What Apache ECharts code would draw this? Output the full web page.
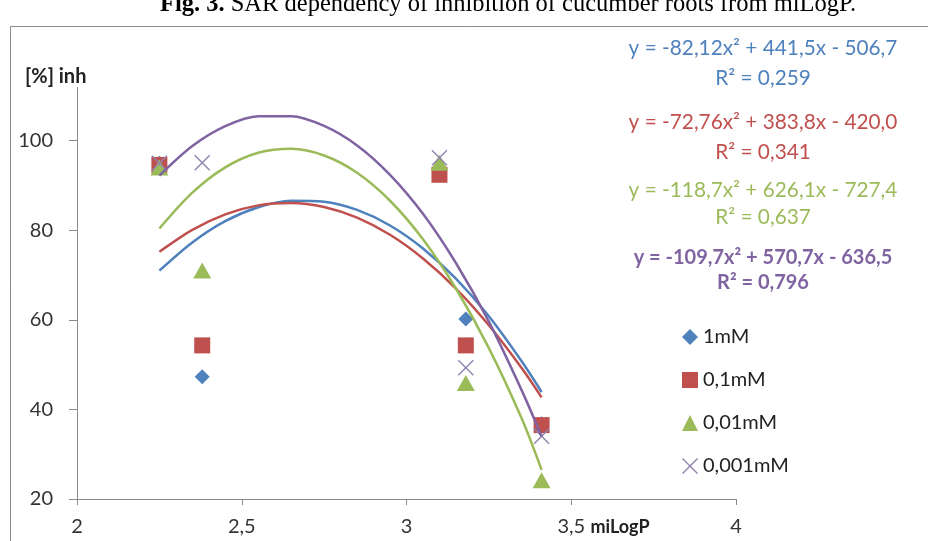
<!DOCTYPE html>
<html>
<head>
<meta charset="utf-8">
<script src="https://cdn.jsdelivr.net/npm/echarts@6/dist/echarts.min.js"></script>
<style>
html,body{margin:0;padding:0;background:#fff;}
#g_chart{width:928px;height:541px;}
</style>
</head>
<body>
<div id="g_chart"></div>
<script>
// miLogP of the compounds
var logP = [2.25, 2.38, 3.10, 3.18, 3.41];
// inhibition [%] per concentration
var inh_1mM = [95, 47.3, 93, 60.2, 36.8];
var inh_01mM = [94.6, 54.3, 92.4, 54.3, 36.5];
var inh_001mM = [94.0, 71.0, 95.1, 45.9, 24.2];
var inh_0001mM = [95, 95.1, 96.2, 49.3, 34.0];

// trend lines
var trendX = [2.25, 2.35, 2.45, 2.55, 2.65, 2.75, 2.85, 2.95, 3.05, 3.15, 3.25, 3.35, 3.41];
var trend_1mM = [71.0, 77.3, 82.05, 85.14, 86.59, 86.39, 84.55, 81.08, 75.95, 69.2, 60.8, 50.7, 43.9];
var trend_01mM = [75.2, 80.1, 83.57, 85.57, 86.11, 85.2, 82.83, 79.0, 73.7, 67.0, 58.8, 49.2, 42.7];
var trend_001mM = [80.4, 88.4, 94.05, 97.31, 98.19, 96.7, 92.84, 86.6, 78.0, 67.0, 53.7, 37.9, 26.5];
var trend_0001mM = [92.2, 98.8, 103.25, 105.47, 105.49, 103.32, 98.96, 92.4, 83.7, 72.7, 59.6, 44.2, 34.0];

var names = ['1mM', '0,1mM', '0,01mM', '0,001mM'];
var colors = ['#4F81BD', '#C0504D', '#9BBB59', '#8064A2'];
var equations = [
	['y = -82,12x² + 441,5x - 506,7', 'R² = 0,259'],
	['y = -72,76x² + 383,8x - 420,0', 'R² = 0,341'],
	['y = -118,7x² + 626,1x - 727,4', 'R² = 0,637'],
	['y = -109,7x² + 570,7x - 636,5', 'R² = 0,796']
];

var yTicks = [20, 40, 60, 80, 100];

var diamond = 'path://M5,0L10,5L5,10L0,5Z';
var cross = 'path://M0,1L1,0L8,7L15,0L16,1L9,8L16,15L15,16L8,9L1,16L0,15L7,8Z';
var symbols = [diamond, 'rect', 'triangle', cross];
var symSizes = [15, 16, [18, 16], 16];

function pairs(xs, ys){
	var out = [];
	for(let i=0;i<xs.length;i++){
		out.push([xs[i], ys[i]]);
	}
	return out;
}

var pointSets = [inh_1mM, inh_01mM, inh_001mM, inh_0001mM];
var trendSets = [trend_1mM, trend_01mM, trend_001mM, trend_0001mM];

var series = [];
for(let i=0;i<4;i++){
	series.push({
		name: names[i],
		type: 'scatter',
		symbol: symbols[i],
		symbolSize: symSizes[i],
		itemStyle: { color: i==3 ? '#9185B0' : colors[i], opacity: 1 },
		data: pairs(logP, pointSets[i]),
		z: 2
	});
}
for(let i=0;i<4;i++){
	series.push({
		name: 'trend' + i,
		type: 'line',
		smooth: 0.3,
		showSymbol: false,
		symbol: 'none',
		lineStyle: { color: colors[i], width: 2.5 },
		data: pairs(trendX, trendSets[i]),
		silent: true,
		z: 3
	});
}

// equation labels
var graphics = [];
var eqY = [[48, 78], [122, 152], [190, 217], [258, 283]];
for(let i=0;i<4;i++){
	for(let j=0;j<2;j++){
		graphics.push({
			type: 'text',
			x: 763,
			y: eqY[i][j],
			style: {
				text: equations[i][j],
				fill: colors[i],
				font: i==3 ? 'bold 20px Lato' : '20.8px Lato',
				align: 'center',
				verticalAlign: 'middle'
			}
		});
	}
}
// outer frame
graphics.push({
	type: 'rect',
	shape: { x: 10.5, y: 26.5, width: 940, height: 540 },
	style: { fill: 'none', stroke: '#8c8c8c', lineWidth: 1 },
	z: -1
});
// figure caption
graphics.push({
	type: 'text',
	x: 508,
	y: 5,
	style: {
		text: '{b|Fig. 3.} SAR dependency of inhibition of cucumber roots from miLogP.',
		rich: {
			b: { font: 'bold 24.5px "Liberation Serif"', fill: '#000' }
		},
		font: '24.5px "Liberation Serif"',
		fill: '#000',
		align: 'center',
		verticalAlign: 'middle'
	}
});
// axis titles
graphics.push({
	type: 'text', x: 25, y: 77,
	style: { text: '[%] inh', font: 'bold 20px Lato', fill: '#222', verticalAlign: 'middle', backgroundColor: '#fff' },
	z: 10
});
graphics.push({
	type: 'text', x: 620, y: 527,
	style: { text: 'miLogP', font: 'bold 18px Lato', fill: '#222', align: 'center', verticalAlign: 'middle' }
});

var option = {
	animation: false,
	backgroundColor: '#fff',
	grid: {
		left: 77,
		right: 192,
		top: 87,
		bottom: 42,
		outerBoundsMode: 'none'
	},
	legend: {
		orient: 'vertical',
		left: 677,
		top: 322,
		itemGap: 23,
		itemWidth: 16,
		itemHeight: 16,
		textStyle: { fontFamily: 'Lato', fontSize: 20, color: '#222' },
		data: [
			{ name: names[0], icon: diamond },
			{ name: names[1], icon: 'rect' },
			{ name: names[2], icon: 'triangle' },
			{ name: names[3], icon: cross, itemStyle: { color: '#9185B0' } }
		]
	},
	xAxis: {
		type: 'value',
		min: 2,
		max: 4,
		interval: 0.5,
		splitLine: { show: false },
		axisLine: { lineStyle: { color: '#8c8c8c' } },
		axisTick: { show: true, length: 6, lineStyle: { color: '#8c8c8c' } },
		axisLabel: {
			margin: 18,
			fontFamily: 'Lato',
			fontSize: 20,
			color: '#333',
			formatter: function(v){ return String(v).replace('.', ','); }
		}
	},
	yAxis: {
		type: 'value',
		min: 20,
		max: 112,
		interval: 20,
		splitLine: { show: false },
		axisLine: { show: true, lineStyle: { color: '#8c8c8c' } },
		axisTick: { show: true, length: 8, customValues: yTicks, lineStyle: { color: '#8c8c8c' } },
		axisLabel: {
			margin: 24,
			fontFamily: 'Lato',
			fontSize: 20,
			color: '#333',
			customValues: yTicks
		}
	},
	graphic: graphics,
	series: series
};

var myChart = echarts.init(document.getElementById('g_chart'));
myChart.setOption(option);
</script>
</body>
</html>
